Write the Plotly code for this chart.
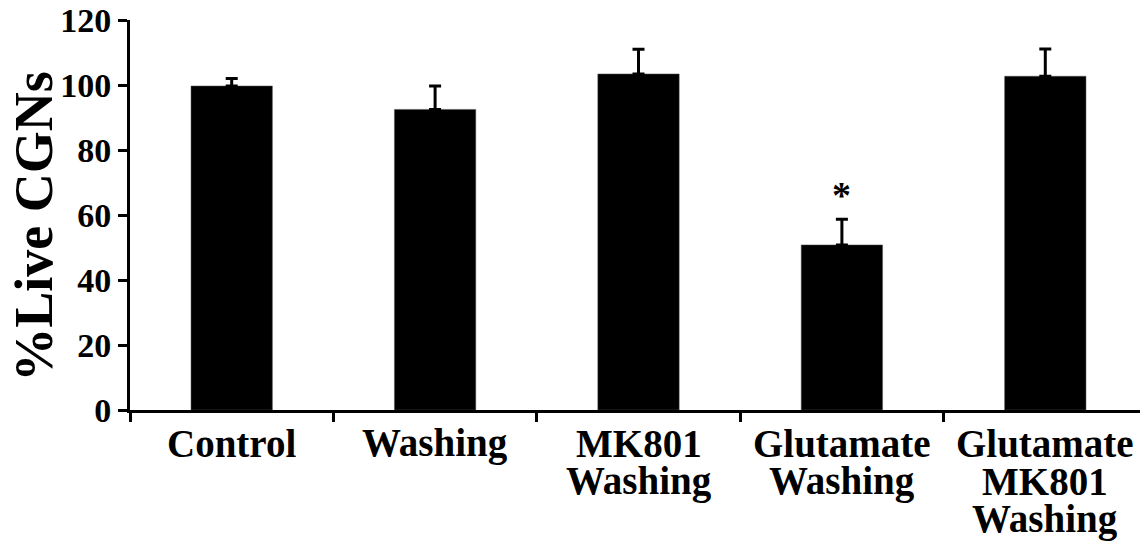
import plotly.graph_objects as go

categories = ["Control", "Washing", "MK801<br>Washing", "Glutamate<br>Washing", "Glutamate<br>MK801<br>Washing"]
values = [99.7, 92.5, 103.4, 50.8, 102.7]
errors = [2.3, 7.2, 7.6, 7.9, 8.4]
significance = ["", "", "", "*", ""]
y_ticks = [0, 20, 40, 60, 80, 100, 120]
y_title = "%Live CGNs"

FONT = "Liberation Serif, Times New Roman, serif"

fig = go.Figure()
fig.add_trace(go.Bar(
    x=list(range(len(categories))),
    y=values,
    marker=dict(color="black", line=dict(color="#555555", width=0.5)),
    error_y=dict(type="data", array=errors, arrayminus=[0] * len(errors),
                 symmetric=False, color="black", thickness=3, width=6),
    width=0.4,
))

annotations = []
# category labels, one annotation per line for tight line spacing
for i, lab in enumerate(categories):
    for j, line in enumerate(lab.split("<br>")):
        annotations.append(dict(
            x=i, xref="x", y=0, yref="paper", yanchor="top", xanchor="center",
            yshift=-16 - j * 38, height=37, valign="bottom",
            text="<b>%s</b>" % line, showarrow=False,
            font=dict(family=FONT, size=39, color="black"),
        ))
# significance markers
for i, s in enumerate(significance):
    if s:
        annotations.append(dict(
            x=i, xref="x", y=values[i] + errors[i], yref="y", yanchor="bottom",
            yshift=1, text="<b>%s</b>" % s, showarrow=False,
            font=dict(family=FONT, size=38, color="black"),
        ))
# y-axis title
annotations.append(dict(
    x=0, xref="paper", xshift=-91, xanchor="center", y=0.47, yref="paper",
    yanchor="middle", text="<b>%s</b>" % y_title, textangle=-90, showarrow=False,
    height=50, valign="bottom",
    font=dict(family=FONT, size=54, color="black"),
))

fig.update_layout(
    width=1140, height=536,
    margin=dict(l=122, r=1, t=12, b=134, autoexpand=False),
    plot_bgcolor="white", paper_bgcolor="white",
    showlegend=False,
    bargap=0.6,
    annotations=annotations,
    xaxis=dict(
        range=[-0.5, 4.5], tickmode="array",
        tickvals=[-0.5, 0.5, 1.5, 2.5, 3.5, 4.5],
        showticklabels=False, ticks="outside", ticklen=9, tickwidth=3,
        tickcolor="black", showline=True, linecolor="black", linewidth=3,
        showgrid=False, zeroline=False, automargin=False,
    ),
    yaxis=dict(
        range=[0, 120], tickmode="array", tickvals=y_ticks,
        ticktext=["<b>%d</b>" % t for t in y_ticks],
        ticks="outside", ticklen=9, tickwidth=3, tickcolor="black",
        showline=True, linecolor="black", linewidth=3,
        showgrid=False, zeroline=False, automargin=False,
        ticklabeloverflow="allow",
        tickfont=dict(family=FONT, size=34, color="black"),
    ),
)

fig.write_html("out.html")
